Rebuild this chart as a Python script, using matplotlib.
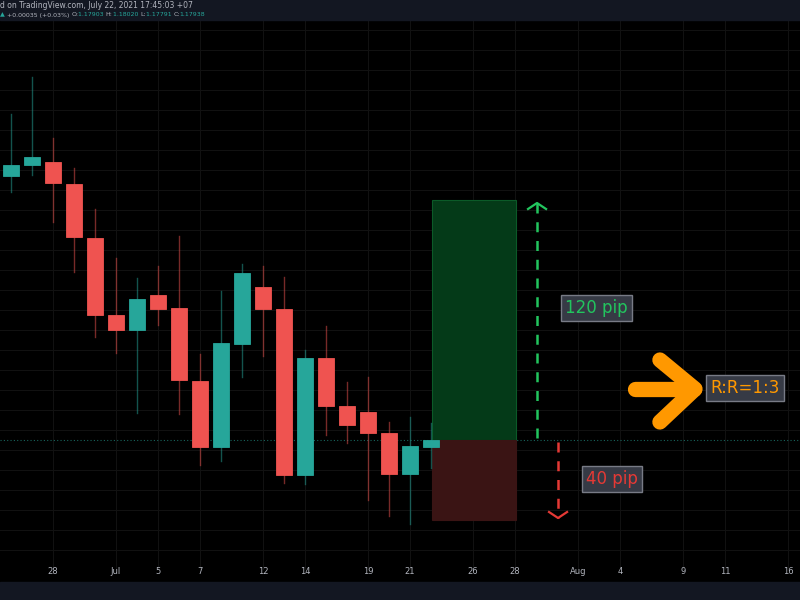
import matplotlib
matplotlib.use("Agg")
import matplotlib.pyplot as plt
from matplotlib.patches import Rectangle

day_index = list(range(-2, 19))
opens  = [1.19258,1.19313,1.19328,1.19218,1.18948,1.18563,1.18488,1.18663,1.18598,1.18233,1.17903,1.18418,1.18703,1.18593,1.17763,1.18348,1.18108,1.18078,1.17973,1.17768,1.17903]
closes = [1.19313,1.19353,1.19223,1.18953,1.18563,1.18488,1.18643,1.18593,1.18238,1.17903,1.18423,1.18773,1.18593,1.17763,1.18348,1.18108,1.18013,1.17973,1.17768,1.17908,1.17938]
highs  = [1.19568,1.19753,1.19448,1.19298,1.19093,1.18848,1.18748,1.18808,1.18958,1.18368,1.18683,1.18818,1.18808,1.18753,1.18388,1.18508,1.18228,1.18253,1.18028,1.18053,1.18023]
lows   = [1.19178,1.19263,1.19028,1.18778,1.18453,1.18373,1.18073,1.18513,1.18068,1.17813,1.17833,1.18253,1.18358,1.17723,1.17718,1.17963,1.17923,1.17638,1.17558,1.17518,1.17798]

tick_pos = [0, 3, 5, 7, 10, 12, 15, 17, 20, 22, 25, 27, 30, 32, 35]
tick_labels = ["28", "Jul", "5", "7", "12", "14", "19", "21", "26", "28", "Aug", "4", "9", "11", "16"]

entry = 1.17938
target_pips = 120
stop_pips = 40
pip = 0.0001
box_x = [18.05, 22.05]

UP, DN = "#26a69a", "#ef5350"

fig = plt.figure(figsize=(8, 6), dpi=100, facecolor="black")
fig.patches.append(Rectangle((0, 580/600), 1, 20/600, transform=fig.transFigure, color="#131722", zorder=0))
fig.patches.append(Rectangle((0, 0), 1, 18/600, transform=fig.transFigure, color="#131722", zorder=0))

ax = fig.add_axes([0, 30/600, 1, 550/600])
ax.set_facecolor("black")
ax.set_xlim(-2.52, 35.57)
ax.set_ylim(1.17288, 1.20038)

for t in tick_pos:
    ax.axvline(t, color="#111111", lw=0.8, zorder=0)
y = 1.17188
while y < 1.2010:
    ax.axhline(y, color="#111111", lw=0.8, zorder=0)
    y += 0.001

for i, o, c, h, l in zip(day_index, opens, closes, highs, lows):
    col = UP if c >= o else DN
    ax.plot([i, i], [l, h], color=col, lw=1, alpha=0.5, zorder=2)
    ax.add_patch(Rectangle((i - 0.38, min(o, c)), 0.76, abs(c - o), facecolor=col, edgecolor=col, lw=0.6, zorder=3))

ax.axhline(entry, color=UP, lw=0.8, ls=(0, (1, 2)), alpha=0.6, zorder=1)

tp = entry + target_pips * pip
sl = entry - stop_pips * pip
ax.add_patch(Rectangle((box_x[0], entry), box_x[1] - box_x[0], tp - entry, facecolor="#043a18", edgecolor="#0b5a28", lw=0.8, zorder=1))
ax.add_patch(Rectangle((box_x[0], sl), box_x[1] - box_x[0], entry - sl, facecolor="#3a1414", edgecolor="#3a1414", lw=0.8, zorder=1))

G, R = "#22c55e", "#e53935"
ax.plot([23.05, 23.05], [entry + 0.0001, tp - 0.0001], color=G, lw=1.8, ls=(0, (4, 3.5)))
ax.plot([22.62, 23.05, 23.48], [tp - 0.00045, tp - 0.00015, tp - 0.00045], color=G, lw=1.6)
ax.plot([24.05, 24.05], [entry - 0.0001, sl + 0.0001], color=R, lw=1.8, ls=(0, (4, 3.5)))
ax.plot([23.62, 24.05, 24.48], [sl + 0.0004, sl + 0.0001, sl + 0.0004], color=R, lw=1.6)

box = dict(boxstyle="square,pad=0.25", facecolor="#363a45", edgecolor="#787b86", lw=1)
ax.text(25.86, 1.18598, "120 pip", color=G, fontsize=12, ha="center", va="center", bbox=box, zorder=5)
ax.text(26.62, 1.17743, "40 pip", color=R, fontsize=12, ha="center", va="center", bbox=box, zorder=5)
ax.text(32.95, 1.18198, "R:R=1:3", color="#ff9800", fontsize=12, ha="center", va="center", bbox=box, zorder=5)

O = "#ff9800"
ax.plot([27.71, 30.5], [1.18193, 1.18193], color=O, lw=11, solid_capstyle="round")
ax.plot([28.9, 30.57, 28.9], [1.18338, 1.18193, 1.18028], color=O, lw=11, solid_capstyle="round", solid_joinstyle="round")

ax.set_xticks(tick_pos)
ax.set_xticklabels(tick_labels)
ax.tick_params(axis="x", colors="#b2b5be", labelsize=6, length=0, pad=-2, direction="in")
ax.set_yticks([])
for s in ax.spines.values():
    s.set_visible(False)

fig.text(0, 1 - 6/600, "d on TradingView.com, July 22, 2021 17:45:03 +07", color="#b2b5be", fontsize=5.5, va="center")
segs = [("▲ ", UP), ("+0.00035 (+0.03%) ", "#b2b5be"), ("O:", "#b2b5be"), ("1.17903 ", UP),
        ("H:", "#b2b5be"), ("1.18020 ", UP), ("L:", "#b2b5be"), ("1.17791 ", UP),
        ("C:", "#b2b5be"), ("1.17938", UP)]
prev = fig.text(0, 1 - 15/600, segs[0][0], color=segs[0][1], fontsize=4.5, va="center")
for s, c in segs[1:]:
    prev = fig.text(0, 0, s, color=c, fontsize=4.5, va="center")
    prev.set_position((0, 0))
    prev.remove()
    prev = None
    break
# chain texts using annotate so they sit side by side
prev = fig.texts[-1]
for s, c in segs[1:]:
    prev = fig.add_artist(matplotlib.text.Annotation(s, xy=(1, 0.5), xycoords=prev, va="center", ha="left",
                                                      color=c, fontsize=4.5))

fig.savefig("out.png", dpi=100, facecolor="black")
